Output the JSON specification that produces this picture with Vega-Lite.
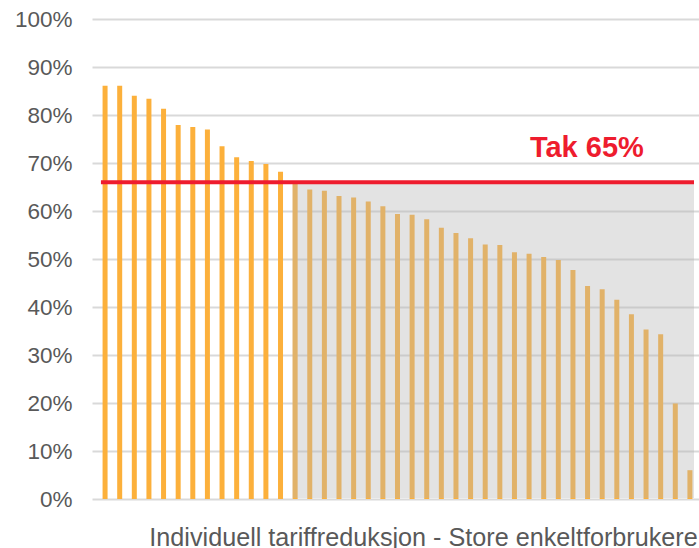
{
  "$schema": "https://vega.github.io/schema/vega-lite/v6.json",
  "autosize": "none",
  "width": 607,
  "height": 480,
  "padding": {"left": 92, "top": 19, "right": 0, "bottom": 49},
  "background": "white",
  "config": {
    "view": {"stroke": null},
    "font": "Liberation Sans"
  },
  "datasets": {
    "bars": [
      {"i": 1, "v": 0.861}, {"i": 2, "v": 0.861}, {"i": 3, "v": 0.840}, {"i": 4, "v": 0.834},
      {"i": 5, "v": 0.813}, {"i": 6, "v": 0.779}, {"i": 7, "v": 0.775}, {"i": 8, "v": 0.770},
      {"i": 9, "v": 0.735}, {"i": 10, "v": 0.712}, {"i": 11, "v": 0.704}, {"i": 12, "v": 0.698},
      {"i": 13, "v": 0.682}, {"i": 14, "v": 0.660}, {"i": 15, "v": 0.645}, {"i": 16, "v": 0.642},
      {"i": 17, "v": 0.631}, {"i": 18, "v": 0.628}, {"i": 19, "v": 0.620}, {"i": 20, "v": 0.610},
      {"i": 21, "v": 0.594}, {"i": 22, "v": 0.592}, {"i": 23, "v": 0.583}, {"i": 24, "v": 0.565},
      {"i": 25, "v": 0.554}, {"i": 26, "v": 0.543}, {"i": 27, "v": 0.530}, {"i": 28, "v": 0.529},
      {"i": 29, "v": 0.514}, {"i": 30, "v": 0.511}, {"i": 31, "v": 0.504}, {"i": 32, "v": 0.498},
      {"i": 33, "v": 0.477}, {"i": 34, "v": 0.444}, {"i": 35, "v": 0.437}, {"i": 36, "v": 0.415},
      {"i": 37, "v": 0.385}, {"i": 38, "v": 0.353}, {"i": 39, "v": 0.343}, {"i": 40, "v": 0.199},
      {"i": 41, "v": 0.060}
    ],
    "zone": [{"x": 13.82, "x2": 41.28, "y": 0.002, "y2": 0.66}],
    "cap": [{"x": 0.717, "x2": 41.28, "y": 0.66}],
    "label": [{"x": 33.95, "y": 0.713, "t": "Tak 65%"}]
  },
  "layer": [
    {
      "data": {"name": "bars"},
      "mark": {"type": "bar", "size": 5, "color": "#FCB03B"},
      "encoding": {
        "x": {
          "field": "i", "type": "quantitative",
          "scale": {"domain": [0.448, 41.28], "nice": false, "zero": false},
          "axis": {
            "labels": false, "ticks": false, "domain": false, "grid": false,
            "title": "Individuell tariffreduksjon - Store enkeltforbrukere",
            "titleFont": "Liberation Sans", "titleFontSize": 25.2, "titleFontWeight": "normal",
            "titleColor": "#595959", "titleX": 331, "titleY": 46, "titleBaseline": "alphabetic",
            "titleAnchor": "middle", "titleAlign": "center"
          }
        },
        "y": {
          "field": "v", "type": "quantitative",
          "scale": {"domain": [0, 1], "nice": false},
          "axis": {
            "values": [0, 0.1, 0.2, 0.3, 0.4, 0.5, 0.6, 0.7, 0.8, 0.9, 1],
            "format": ".0%", "title": null, "domain": false, "ticks": false,
            "labelPadding": 20, "labelFontSize": 22.5, "labelColor": "#595959",
            "labelFont": "Liberation Sans",
            "gridColor": "#D9D9D9", "gridWidth": 2
          }
        }
      }
    },
    {
      "data": {"name": "zone"},
      "mark": {"type": "rect", "color": "#B5B5B5", "opacity": 0.38},
      "encoding": {
        "x": {"field": "x", "type": "quantitative"},
        "x2": {"field": "x2"},
        "y": {"field": "y", "type": "quantitative"},
        "y2": {"field": "y2"}
      }
    },
    {
      "data": {"name": "cap"},
      "mark": {"type": "rule", "color": "#EE1C2E", "strokeWidth": 4},
      "encoding": {
        "x": {"field": "x", "type": "quantitative"},
        "x2": {"field": "x2"},
        "y": {"field": "y", "type": "quantitative"}
      }
    },
    {
      "data": {"name": "label"},
      "mark": {"type": "text", "color": "#EE1C2E", "fontSize": 29, "fontWeight": "bold", "font": "Liberation Sans", "align": "center", "baseline": "alphabetic"},
      "encoding": {
        "x": {"field": "x", "type": "quantitative"},
        "y": {"field": "y", "type": "quantitative"},
        "text": {"field": "t"}
      }
    }
  ]
}
